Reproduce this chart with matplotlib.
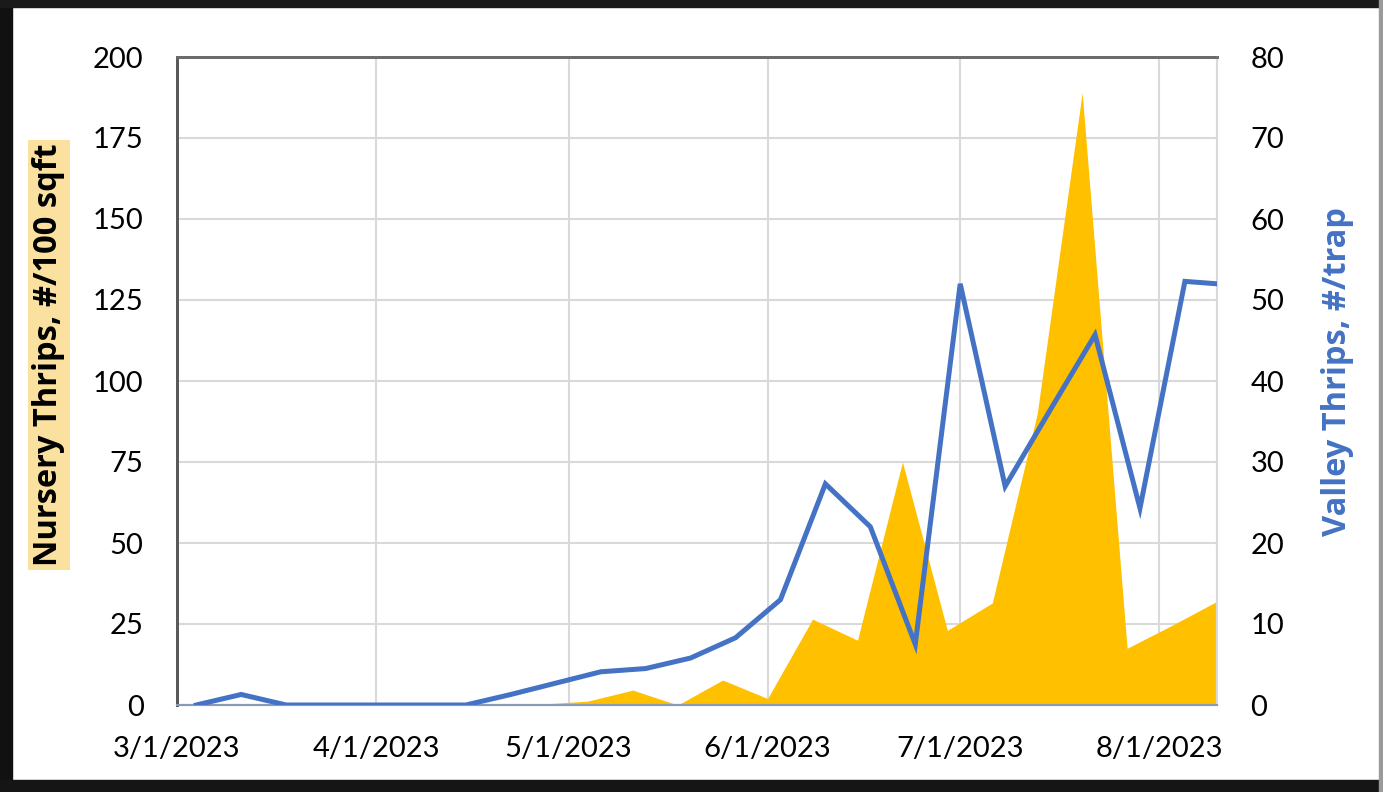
import matplotlib
matplotlib.use('Agg')
import matplotlib.pyplot as plt
from matplotlib.patches import Rectangle
import numpy as np

plt.rcParams['font.family'] = ['Lato', 'DejaVu Sans']

# Valley thrips (right axis), sampled on Saturdays
valley_dates = np.array(['2023-03-04', '2023-03-11', '2023-03-18', '2023-03-25',
                         '2023-04-01', '2023-04-08', '2023-04-15', '2023-04-22',
                         '2023-04-29', '2023-05-06', '2023-05-13', '2023-05-20',
                         '2023-05-27', '2023-06-03', '2023-06-10', '2023-06-17',
                         '2023-06-24', '2023-07-01', '2023-07-08', '2023-07-15',
                         '2023-07-22', '2023-07-29', '2023-08-05', '2023-08-10'],
                        dtype='datetime64[D]')
valley_vals = [0, 1.3, 0, 0, 0, 0, 0, 1.3, 2.7, 4.1, 4.5, 5.8,
               8.3, 13, 27.3, 22, 7.5, 52, 27, 36.4, 45.7, 24.3, 52.3, 52]

# Nursery thrips (left axis), sampled on Thursdays
nursery_dates = np.array(['2023-03-02', '2023-03-09', '2023-03-16', '2023-03-23',
                          '2023-03-30', '2023-04-06', '2023-04-13', '2023-04-20',
                          '2023-04-27', '2023-05-04', '2023-05-11', '2023-05-18',
                          '2023-05-25', '2023-06-01', '2023-06-08', '2023-06-15',
                          '2023-06-22', '2023-06-29', '2023-07-06', '2023-07-13',
                          '2023-07-20', '2023-07-27', '2023-08-03', '2023-08-10'],
                         dtype='datetime64[D]')
nursery_vals = [0, 0, 0, 0, 0, 0, 0, 0, 0.3, 1.2, 4.6, 0,
                7.7, 2, 26.5, 20, 75, 23, 31.5, 90, 189, 17.5, 24.6, 32]

month_ticks = np.array(['2023-03-01', '2023-04-01', '2023-05-01',
                        '2023-06-01', '2023-07-01', '2023-08-01'], dtype='datetime64[D]')
month_labels = ['3/1/2023', '4/1/2023', '5/1/2023', '6/1/2023', '7/1/2023', '8/1/2023']
left_ticks = [0, 25, 50, 75, 100, 125, 150, 175, 200]
right_ticks = [0, 10, 20, 30, 40, 50, 60, 70, 80]

fig = plt.figure(figsize=(13.83, 7.92), dpi=100)
fig.patch.set_facecolor('white')

# dark frame around the picture
W, H = 1383, 792
for x0, y0, w, h, c in [(0, 0, 12, H, '#111111'), (0, 0, W, 12, '#151515'),
                        (0, H - 7, W, 7, '#1a1a1a'), (W - 4, 0, 4, H, '#9a9a9a')]:
    fig.patches.append(Rectangle((x0 / W, y0 / H), w / W, h / H,
                                 transform=fig.transFigure, color=c, zorder=0))

ax = fig.add_axes([177 / W, 1 - 705 / H, (1217 - 177) / W, (705 - 57) / H])
ax2 = ax.twinx()

ax.fill_between(nursery_dates, nursery_vals, 0, color='#FFC000', lw=0, zorder=2)
ax2.plot(valley_dates, valley_vals, color='#4472C4', lw=3.6, solid_joinstyle='miter', zorder=3)

xmin, xmax = np.datetime64('2023-03-01'), np.datetime64('2023-08-10')
ax.set_xlim(xmin, xmax)
ax.set_ylim(0, 200)
ax2.set_ylim(0, 80)

ax.set_xticks(month_ticks)
ax.set_xticklabels(month_labels)
ax.set_yticks(left_ticks)
ax2.set_yticks(right_ticks)

ax.grid(True, color='#d9d9d9', lw=1.5, zorder=0)
ax.set_axisbelow(True)

ax.tick_params(axis='x', length=0, pad=22, labelsize=21)
ax.tick_params(axis='y', length=0, pad=24, labelsize=21)
ax2.tick_params(axis='y', length=0, pad=24, labelsize=21)

for a in (ax, ax2):
    a.spines['left'].set_color('#595959')
    a.spines['left'].set_linewidth(2)
    a.spines['top'].set_color('#6b6b6b')
    a.spines['top'].set_linewidth(2)
    a.spines['right'].set_color('#d9d9d9')
    a.spines['right'].set_linewidth(1.5)
    a.spines['bottom'].set_color('#8a9bb8')
    a.spines['bottom'].set_linewidth(1.5)

fig.text(49 / W, 1 - 355 / H, 'Nursery Thrips, #/100 sqft', rotation=90,
         ha='center', va='center', fontsize=23.5, fontweight='bold', color='black',
         family=['Open Sans', 'DejaVu Sans'],
         bbox=dict(facecolor='#FBE1A0', edgecolor='none', pad=3))
fig.text(1338 / W, 1 - 371 / H, 'Valley Thrips, #/trap', rotation=90,
         ha='center', va='center', fontsize=23.5, fontweight='bold', color='#4472C4',
         family=['Open Sans', 'DejaVu Sans'])

fig.savefig('out.png', dpi=100, facecolor=fig.get_facecolor())
